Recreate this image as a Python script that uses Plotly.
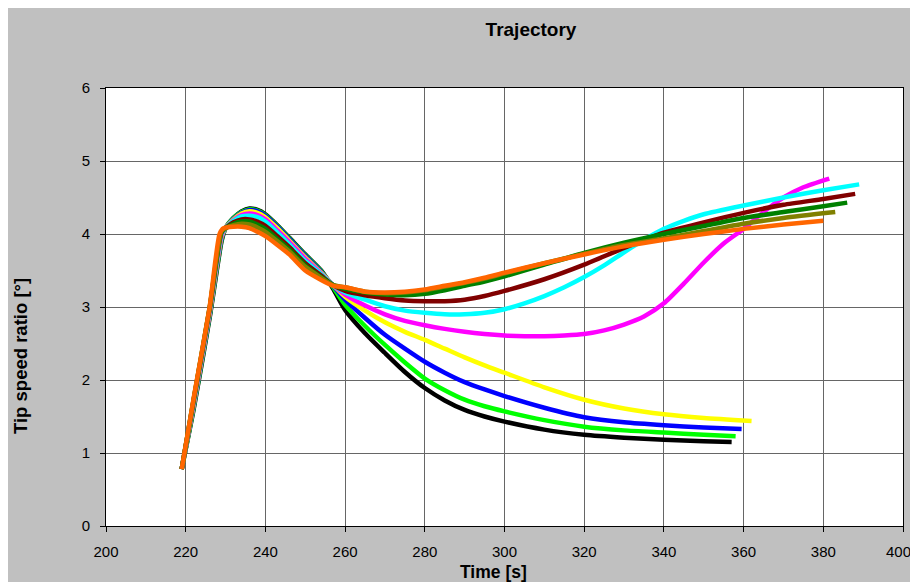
import plotly.graph_objects as go

# ---- data ----
t_black = [219, 222, 226, 229, 230, 232, 234, 236, 238, 240, 243, 246, 250, 254, 257, 260, 265, 270, 275, 280, 285, 290, 295, 300, 310, 320, 330, 340, 350, 357]
y_black = [0.78, 1.6, 2.85, 3.9, 4.08, 4.22, 4.31, 4.35, 4.33, 4.27, 4.12, 3.95, 3.72, 3.5, 3.25, 2.96, 2.64, 2.37, 2.11, 1.89, 1.72, 1.59, 1.5, 1.43, 1.32, 1.25, 1.21, 1.18, 1.16, 1.15]

t_green = [219, 222, 226, 229, 230, 232, 234, 236, 238, 240, 243, 246, 250, 254, 257, 260, 265, 270, 275, 280, 285, 290, 295, 300, 310, 320, 330, 340, 350, 358]
y_green = [0.78, 1.62, 2.87, 3.92, 4.08, 4.22, 4.30, 4.34, 4.32, 4.26, 4.11, 3.94, 3.71, 3.49, 3.27, 3.03, 2.74, 2.48, 2.24, 2.02, 1.86, 1.73, 1.64, 1.57, 1.45, 1.36, 1.31, 1.28, 1.25, 1.23]

t_blue = [219, 222, 226, 229, 230, 232, 234, 236, 238, 240, 243, 246, 250, 254, 257, 260, 265, 270, 275, 280, 285, 290, 295, 300, 310, 320, 330, 340, 350, 359.5]
y_blue = [0.78, 1.64, 2.89, 3.94, 4.08, 4.21, 4.29, 4.33, 4.31, 4.25, 4.10, 3.93, 3.70, 3.48, 3.29, 3.10, 2.85, 2.62, 2.43, 2.25, 2.10, 1.97, 1.87, 1.78, 1.62, 1.49, 1.42, 1.38, 1.35, 1.33]

t_yellow = [219, 222, 226, 229, 230, 232, 234, 236, 238, 240, 243, 246, 250, 254, 257, 260, 265, 270, 275, 280, 285, 290, 295, 300, 310, 320, 330, 340, 350, 362]
y_yellow = [0.78, 1.66, 2.91, 3.96, 4.08, 4.20, 4.28, 4.31, 4.29, 4.23, 4.08, 3.91, 3.68, 3.47, 3.3, 3.14, 2.95, 2.79, 2.66, 2.55, 2.43, 2.31, 2.20, 2.10, 1.90, 1.73, 1.61, 1.53, 1.48, 1.44]

t_magenta = [219, 222, 226, 229, 230, 232, 234, 236, 238, 240, 243, 246, 250, 254, 257, 260, 265, 270, 275, 280, 285, 290, 295, 300, 305, 310, 315, 320, 325, 330, 335, 340, 345, 350, 355, 360, 365, 370, 375, 381.5]
y_magenta = [0.78, 1.68, 2.93, 3.98, 4.08, 4.19, 4.26, 4.28, 4.26, 4.20, 4.05, 3.89, 3.66, 3.46, 3.3, 3.17, 3.02, 2.90, 2.81, 2.75, 2.70, 2.66, 2.63, 2.61, 2.60, 2.60, 2.61, 2.63, 2.68, 2.76, 2.87, 3.05, 3.32, 3.61, 3.87, 4.07, 4.30, 4.50, 4.64, 4.76]

t_cyan = [219, 222, 226, 229, 230, 232, 234, 236, 238, 240, 243, 246, 250, 254, 257, 260, 265, 270, 275, 280, 285, 290, 295, 300, 305, 310, 315, 320, 325, 330, 335, 340, 345, 350, 360, 370, 380, 389]
y_cyan = [0.78, 1.70, 2.95, 4.0, 4.08, 4.18, 4.24, 4.25, 4.23, 4.17, 4.02, 3.86, 3.63, 3.45, 3.3, 3.20, 3.10, 3.01, 2.95, 2.92, 2.90, 2.90, 2.92, 2.97, 3.05, 3.15, 3.27, 3.41, 3.57, 3.75, 3.92, 4.07, 4.18, 4.27, 4.39, 4.50, 4.60, 4.68]

t_maroon = [219, 222, 226, 229, 230, 232, 234, 236, 238, 240, 243, 246, 250, 254, 257, 260, 265, 270, 275, 280, 285, 290, 295, 300, 310, 320, 330, 340, 350, 360, 370, 380, 388]
y_maroon = [0.78, 1.72, 2.97, 4.02, 4.08, 4.16, 4.20, 4.20, 4.17, 4.11, 3.97, 3.82, 3.60, 3.43, 3.3, 3.22, 3.16, 3.12, 3.09, 3.08, 3.08, 3.10, 3.15, 3.22, 3.38, 3.58, 3.81, 4.02, 4.16, 4.29, 4.40, 4.48, 4.55]

t_dkgreen = [219, 222, 226, 229, 230, 232, 234, 236, 238, 240, 243, 246, 250, 254, 257, 260, 265, 270, 275, 280, 285, 290, 295, 300, 310, 320, 330, 340, 350, 360, 370, 380, 386]
y_dkgreen = [0.78, 1.73, 2.98, 4.03, 4.08, 4.14, 4.17, 4.17, 4.13, 4.07, 3.93, 3.79, 3.57, 3.41, 3.3, 3.25, 3.20, 3.17, 3.16, 3.18, 3.23, 3.29, 3.35, 3.42, 3.58, 3.74, 3.88, 4.00, 4.11, 4.22, 4.30, 4.38, 4.43]

t_olive = [219, 222, 226, 229, 230, 232, 234, 236, 238, 240, 243, 246, 250, 254, 257, 260, 265, 270, 275, 280, 285, 290, 295, 300, 310, 320, 330, 340, 350, 360, 370, 383]
y_olive = [0.78, 1.74, 2.99, 4.04, 4.08, 4.12, 4.14, 4.13, 4.09, 4.03, 3.90, 3.76, 3.55, 3.40, 3.3, 3.27, 3.21, 3.19, 3.20, 3.23, 3.28, 3.33, 3.39, 3.46, 3.60, 3.73, 3.85, 3.94, 4.04, 4.14, 4.22, 4.30]

t_orange = [219, 222, 226, 228.5, 229.5, 232, 234, 236, 238, 240, 243, 246, 250, 254, 257, 260, 265, 270, 275, 280, 285, 290, 295, 300, 310, 320, 330, 340, 350, 360, 370, 380]
y_orange = [0.78, 1.75, 3.0, 4.0, 4.08, 4.10, 4.10, 4.08, 4.03, 3.97, 3.85, 3.72, 3.50, 3.37, 3.29, 3.27, 3.21, 3.20, 3.21, 3.24, 3.29, 3.34, 3.40, 3.47, 3.60, 3.72, 3.83, 3.92, 4.00, 4.07, 4.13, 4.18]

series = [
    ("Black", t_black, y_black, "#000000"),
    ("Green", t_green, y_green, "#00FF00"),
    ("Blue", t_blue, y_blue, "#0000FF"),
    ("Yellow", t_yellow, y_yellow, "#FFFF00"),
    ("Magenta", t_magenta, y_magenta, "#FF00FF"),
    ("Cyan", t_cyan, y_cyan, "#00FFFF"),
    ("Maroon", t_maroon, y_maroon, "#800000"),
    ("Dark green", t_dkgreen, y_dkgreen, "#008000"),
    ("Olive", t_olive, y_olive, "#808000"),
    ("Orange", t_orange, y_orange, "#FF6600"),
]

x_ticks = [200, 220, 240, 260, 280, 300, 320, 340, 360, 380, 400]
y_ticks = [0, 1, 2, 3, 4, 5, 6]

FONT = "Arial, Liberation Sans, sans-serif"

fig = go.Figure()
for name, t, y, c in series:
    fig.add_trace(go.Scatter(x=t, y=y, mode="lines", name=name,
                             line=dict(color=c, width=4.5, shape="spline", smoothing=0.6)))

W, H = 918, 582
# page is offset by the 8px body margin; margins are in figure coordinates
L, R, T, B = 98, 23, 80, 64
pw, ph = W - L - R, H - T - B

def fx(px):
    return (px - L) / pw

def fy(py):
    return (H - B - py) / ph

# last x tick label drawn as an annotation nudged left so it is not clipped at the window edge
x_ticktext = [str(v) for v in x_ticks[:-1]] + [""]

fig.update_layout(
    width=W, height=H,
    margin=dict(l=L, r=R, t=T, b=B, pad=0, autoexpand=False),
    paper_bgcolor="#C0C0C0",
    plot_bgcolor="#FFFFFF",
    showlegend=False,
    font=dict(family=FONT, color="#000000", size=13),
    title=dict(text="<b>Trajectory</b>", x=523 / W, xref="container", xanchor="center",
               y=1 - 21 / H, yref="container", yanchor="middle",
               font=dict(family=FONT, size=19, color="#000000")),
    annotations=[
        dict(text="<b>Time [s]</b>", xref="paper", yref="paper", x=fx(485), y=fy(564),
             xanchor="center", yanchor="middle", showarrow=False,
             font=dict(family=FONT, size=17.5, color="#000000")),
        dict(text="<b>Tip speed ratio [°]</b>", xref="paper", yref="paper", x=fx(12), y=fy(348),
             xanchor="center", yanchor="middle", showarrow=False, textangle=-90,
             font=dict(family=FONT, size=18.5, color="#000000")),
        dict(text=str(x_ticks[-1]), xref="x", yref="paper", x=x_ticks[-1], y=fy(543),
             xanchor="center", yanchor="middle", xshift=-5, showarrow=False,
             font=dict(family=FONT, size=15, color="#000000")),
    ],
)
fig.update_xaxes(range=[200, 400], tickvals=x_ticks, ticktext=x_ticktext,
                 automargin=False,
                 showgrid=True, gridcolor="#666666", gridwidth=1,
                 showline=True, linecolor="#000000", linewidth=1, mirror=True,
                 ticks="outside", ticklen=5, tickcolor="#000000",
                 ticklabelstandoff=7,
                 tickfont=dict(family=FONT, size=15, color="#000000"),
                 zeroline=False)
fig.update_yaxes(range=[0, 6], tickvals=y_ticks, ticktext=[str(v) for v in y_ticks],
                 automargin=False,
                 showgrid=True, gridcolor="#666666", gridwidth=1,
                 showline=True, linecolor="#000000", linewidth=1, mirror=True,
                 ticks="outside", ticklen=5, tickcolor="#000000",
                 ticklabelstandoff=7,
                 tickfont=dict(family=FONT, size=15, color="#000000"),
                 zeroline=False)

fig.write_html("out.html")
